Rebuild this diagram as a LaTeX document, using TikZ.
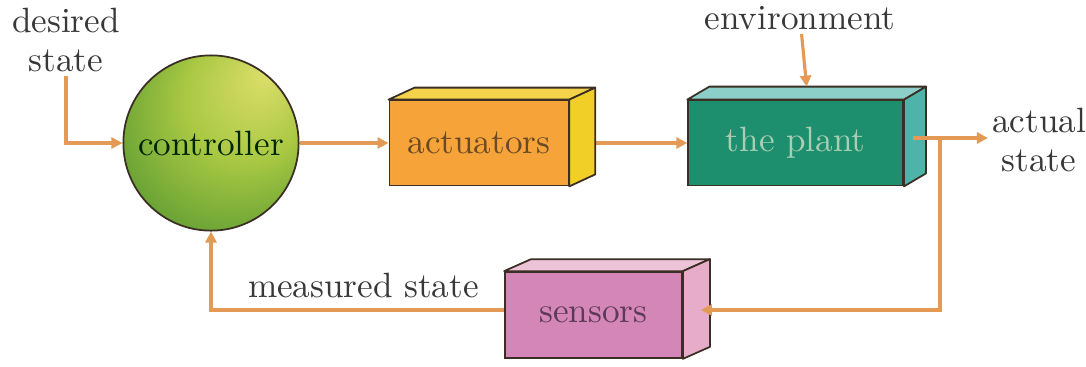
\documentclass[tikz,border=0pt]{standalone}
\usepackage{xcolor}
\usetikzlibrary{arrows.meta,positioning,calc}
\definecolor{flowc}{HTML}{E29A55}
\definecolor{ink}{HTML}{383838}
\definecolor{edge}{HTML}{3B2E25}
\definecolor{ctrllight}{HTML}{DCDE6A}
\definecolor{ctrlmid}{HTML}{A9C843}
\definecolor{ctrldark}{HTML}{3F8A2C}
\definecolor{actFront}{HTML}{F6A43A}
\definecolor{actTop}{HTML}{F4D34A}
\definecolor{actSide}{HTML}{F2CF26}
\definecolor{actText}{HTML}{6A4A26}
\definecolor{plantFront}{HTML}{1E8F6E}
\definecolor{plantTop}{HTML}{8CCFC8}
\definecolor{plantSide}{HTML}{4FB3AA}
\definecolor{plantText}{HTML}{A9CDB2}
\definecolor{sensFront}{HTML}{D486B8}
\definecolor{sensTop}{HTML}{EDC3D8}
\definecolor{sensSide}{HTML}{E8ACCB}
\definecolor{sensText}{HTML}{5C3A58}
% highlight sits up and to the right of the ball
\pgfdeclareradialshading{ctrlball}{\pgfpoint{16bp}{20bp}}{%
  color(0bp)=(ctrllight); color(18bp)=(ctrlmid); color(44bp)=(ctrldark); color(50bp)=(ctrldark)}

\begin{document}
\begin{tikzpicture}[
    node distance=9mm,
    txt/.style={text=ink,align=center,inner sep=1pt,font=\fontsize{10}{11}\selectfont},
    flow/.style={draw=flowc,line width=0.9pt,-{Triangle[length=1.1mm,width=1.1mm]}},
    ctrlnode/.style={circle,minimum size=1.7cm,draw=edge,line width=0.5pt,shading=ctrlball,text=black!85!green},
    cube/.style={draw=edge,line width=0.5pt,minimum height=0.85cm,inner sep=0pt},
    actbox/.style={cube,fill=actFront,minimum width=1.79cm,text=actText},
    plantbox/.style={cube,fill=plantFront,minimum width=2.15cm,text=plantText},
    sensbox/.style={cube,fill=sensFront,minimum width=1.77cm,minimum height=0.86cm,text=sensText},
    face/.style={draw=edge,line width=0.5pt,line join=round}
  ]
    \useasboundingbox (0,0) rectangle (10.86,3.66);

    % Main line
    \node[ctrlnode] (ctrl) at (2.11,2.23) {controller};
    \node[actbox,right=8.9mm of ctrl] (act) {actuators};
    \node[plantbox,right=11.8mm of act] (plant) {the plant};
    \node[sensbox] (sens) at (5.935,0.51) {sensors};

    % Outside labels
    \node[txt] (want) at (0.66,3.26) {desired\\state};
    \node[txt] (env) at (8.00,3.48) {environment};
    \node[txt] (real) at (10.39,2.26) {actual\\state};

    \draw[flow] (act) -- (plant);

    % Top and side faces
    \foreach \n/\dx/\dy/\tc/\sc in {act/0.26/0.12/actTop/actSide,
        plant/0.22/0.13/plantTop/plantSide, sens/0.27/0.12/sensTop/sensSide}{
      \filldraw[face,fill=\tc] (\n.north west) -- ++(\dx,\dy)
        -- ([shift={(\dx,\dy)}]\n.north east) -- (\n.north east) -- cycle;
      \filldraw[face,fill=\sc] (\n.north east) -- ([shift={(\dx,\dy)}]\n.north east)
        -- ([shift={(\dx,\dy)}]\n.south east) -- (\n.south east) -- cycle;
    }

    \coordinate (env-in) at ($(plant.north)+(0.11,0.13)$);
    \coordinate (plant-out) at ($(plant.east)+(0.09,0.05)$);
    \coordinate (split) at ($(plant-out)+(0.27,0)$);
    \coordinate (sens-in) at ($(sens.east)+(0.18,0.05)$);
    \coordinate (sens-out) at ($(sens.west)+(0,0.05)$);

    % Arrows
    \draw[flow] (want.south) |- (ctrl.west);
    \draw[flow] (ctrl) -- (act);
    \draw[flow] (env) -- (env-in);
    \draw[flow] (plant-out) -- (plant-out -| real.west);
    \draw[flow] (split) |- (sens-in);
    \draw[flow] (sens-out) -| node[txt,above,pos=0.24,inner sep=3pt] (meas) {measured state} (ctrl.south);
  \end{tikzpicture}
\end{document}
